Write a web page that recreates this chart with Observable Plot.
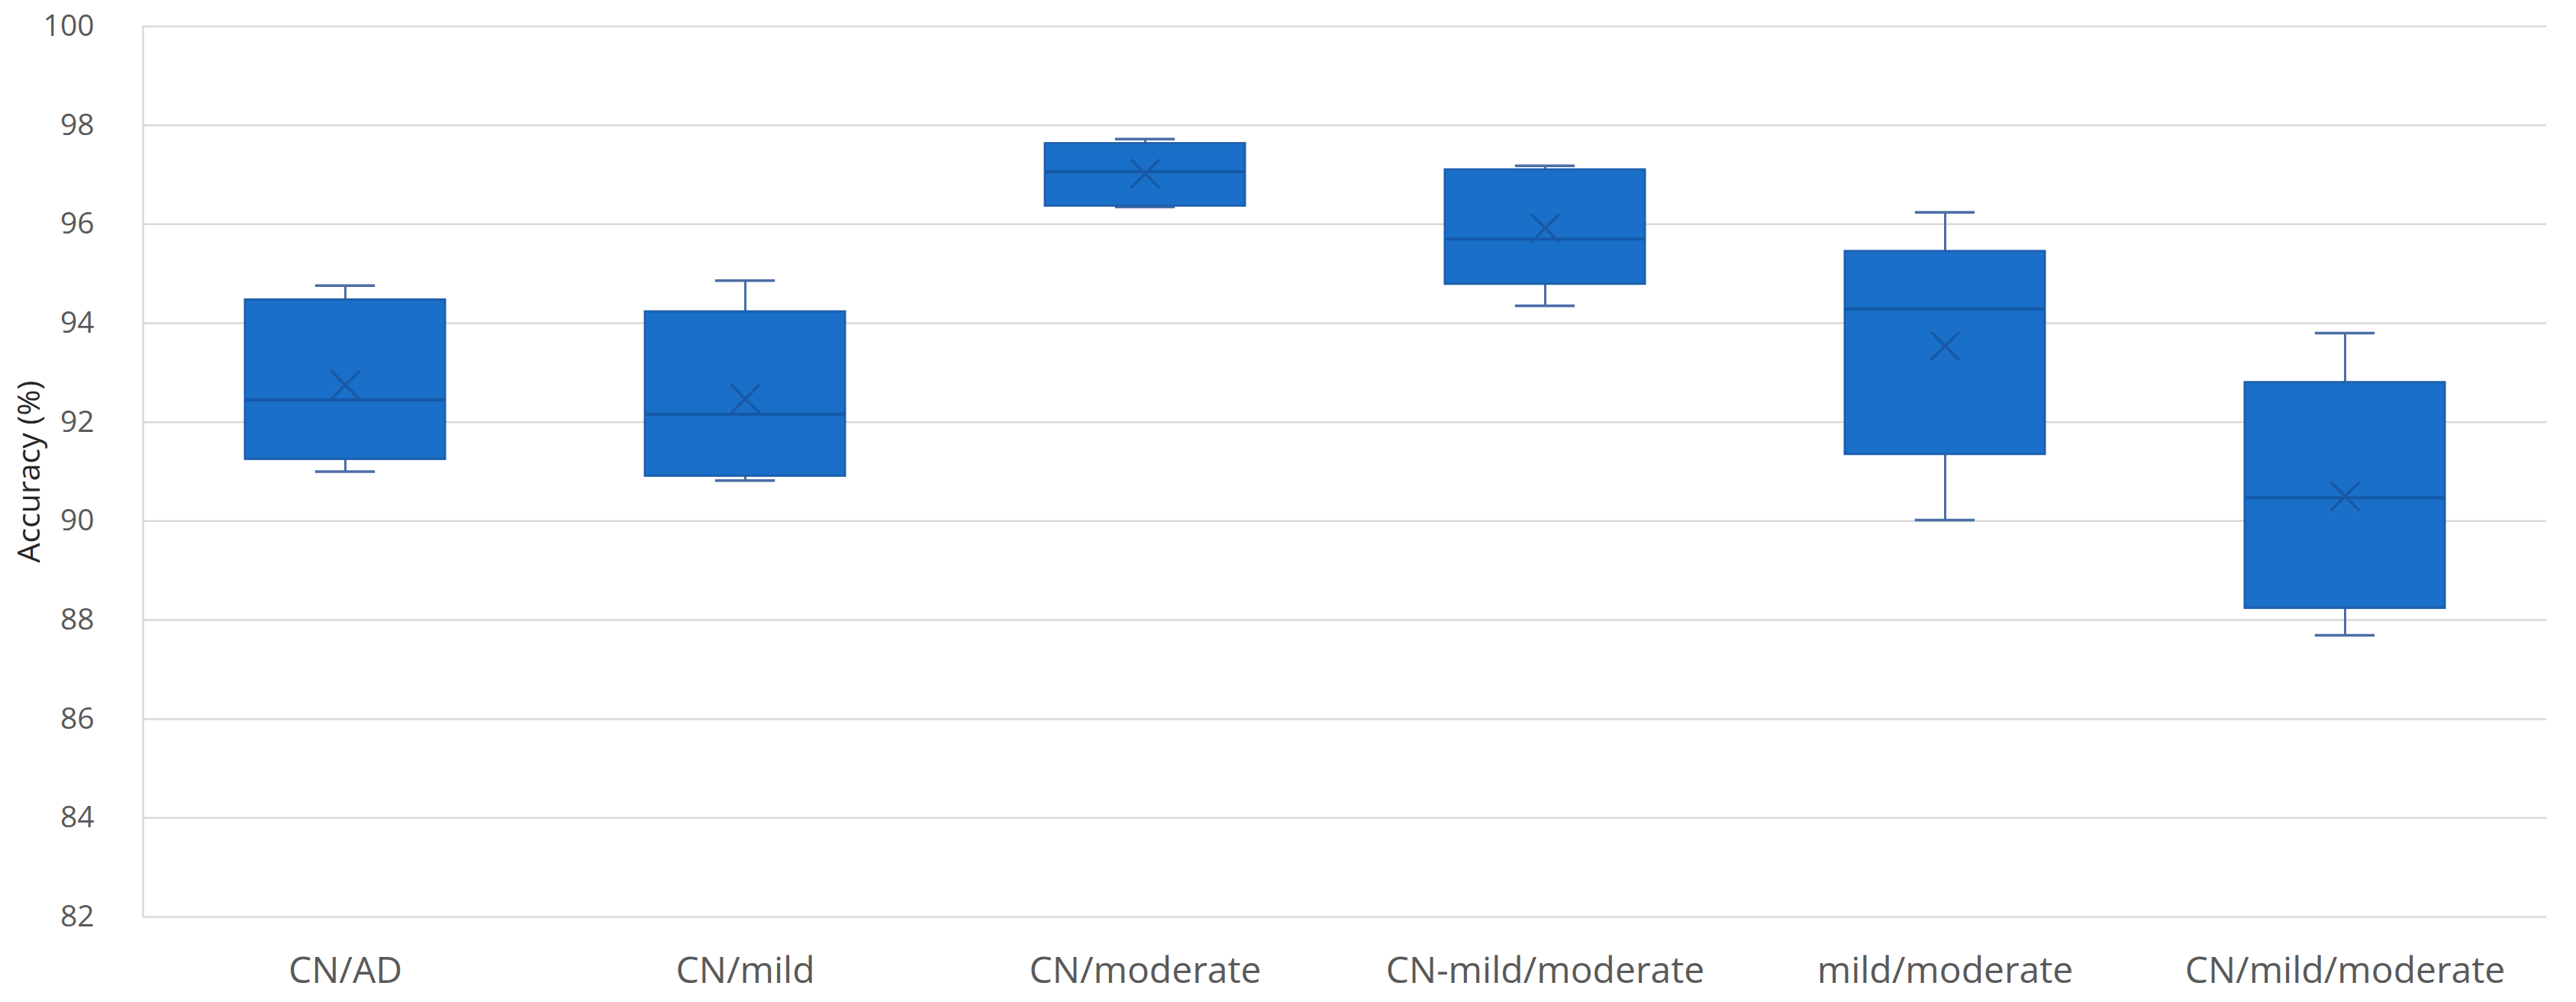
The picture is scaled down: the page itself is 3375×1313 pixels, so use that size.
<!DOCTYPE html>
<html>
<head>
<meta charset="utf-8">
<script src="https://cdn.jsdelivr.net/npm/d3@7"></script>
<script src="https://cdn.jsdelivr.net/npm/@observablehq/plot@0.6"></script>
<style>
  html, body { margin: 0; padding: 0; background: #fff; }
  #chart svg { display: block; }
</style>
</head>
<body>
<div id="chart"></div>
<script>
// Categories and five-number summaries
const categories = ["CN/AD", "CN/mild", "CN/moderate", "CN-mild/moderate", "mild/moderate", "CN/mild/moderate"];
const minimum = [91.00, 90.82, 96.35, 94.35, 90.02, 87.69];
const q1      = [91.25, 90.91, 96.37, 94.79, 91.35, 88.24];
const median  = [92.45, 92.16, 97.06, 95.70, 94.29, 90.47];
const q3      = [94.47, 94.23, 97.63, 97.10, 95.45, 92.80];
const maximum = [94.76, 94.86, 97.72, 97.18, 96.24, 93.80];
const mean    = [92.75, 92.47, 97.02, 95.92, 93.54, 90.50];
const yTicks  = [82, 84, 86, 88, 90, 92, 94, 96, 98, 100];

const rows = categories.map((c, i) => ({
  cat: c, min: minimum[i], q1: q1[i], med: median[i], q3: q3[i], max: maximum[i], mean: mean[i]
}));

const W = 3375, H = 1313;
const mL = 187, mR = 39, mT = 34, mB = 112;
const step = (W - mL - mR) / categories.length;
const boxW = step * 0.5;
const capW = boxW * 0.3;
const capInset = (boxW - capW) / 2;

const fill = "#1a70c8";
const edge = "#1d5fae";
const whisk = "#4a6ea6";

const chart = Plot.plot({
  width: W,
  height: H,
  marginLeft: mL,
  marginRight: mR,
  marginTop: mT,
  marginBottom: mB,
  style: { fontFamily: "'Open Sans', 'Noto Sans', sans-serif", background: "#fff", color: "#595959" },
  x: { domain: categories, paddingInner: 0.5, paddingOuter: 0.25, label: null },
  y: { domain: [82, 100], label: "Accuracy (%)" },
  marks: [
    Plot.gridY(yTicks, { stroke: "#d9d9d9", strokeOpacity: 1, strokeWidth: 2.5 }),
    Plot.frame({ anchor: "left", stroke: "#d9d9d9", strokeOpacity: 1, strokeWidth: 2.5 }),
    Plot.axisY(yTicks, {
      tickSize: 0, tickPadding: 64, fontSize: 39, fill: "#595959", tickFormat: d => String(d),
      label: null
    }),
    Plot.axisY([], {
      tickSize: 0, fontSize: 41, fill: "#262626",
      label: "Accuracy (%)", labelAnchor: "center", labelOffset: 165, labelArrow: "none"
    }),
    Plot.axisX({ tickSize: 0, tickPadding: 52, fontSize: 48, fill: "#595959", label: null }),
    // whiskers
    Plot.ruleX(rows, { x: "cat", y1: "max", y2: "q3", stroke: whisk, strokeWidth: 3 }),
    Plot.ruleX(rows, { x: "cat", y1: "q1", y2: "min", stroke: whisk, strokeWidth: 3 }),
    Plot.tickY(rows, { x: "cat", y: "max", stroke: whisk, strokeWidth: 3.5, insetLeft: capInset, insetRight: capInset }),
    Plot.tickY(rows, { x: "cat", y: "min", stroke: whisk, strokeWidth: 3.5, insetLeft: capInset, insetRight: capInset }),
    // boxes
    Plot.barY(rows, { x: "cat", y1: "q1", y2: "q3", fill: fill, stroke: edge, strokeWidth: 3 }),
    Plot.tickY(rows, { x: "cat", y: "med", stroke: "#1458a8", strokeWidth: 4 }),
    Plot.dot(rows, { x: "cat", y: "mean", symbol: "times", r: 17, stroke: "#1759a6", strokeWidth: 3.5 })
  ]
});

document.getElementById("chart").appendChild(chart);
</script>
</body>
</html>
